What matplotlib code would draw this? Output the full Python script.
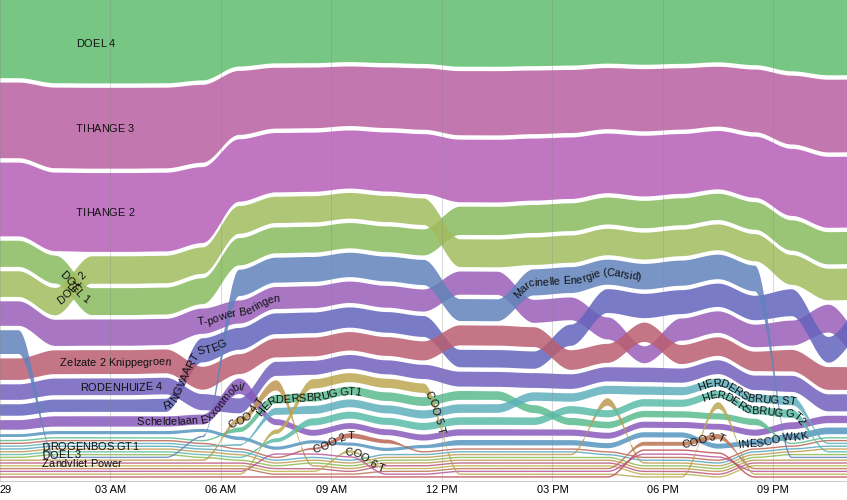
import numpy as np
import matplotlib
matplotlib.use("Agg")
import matplotlib.pyplot as plt
from matplotlib.font_manager import FontProperties
from matplotlib.textpath import TextToPath

# hourly output (MW) per unit, one sample per hour (drawn at the half hour)
hours = list(range(24))

doel4 = [1040] * 24
tihange3 = [1035] * 24
tihange2 = [1010] * 24
doel1 = [372, 372, 358, 358, 358, 358] + [455] * 6 + [470] * 12
doel2 = [365] * 6 + [462] * 18
t_power = [350] * 6 + [390] * 11 + [300, 390, 390, 390, 390, 410, 380]
ringvaart = [175, 175, 175, 175, 185, 335, 370, 370, 370, 370, 370, 370,
             300, 300, 300, 365, 420, 420, 420, 420, 420, 420, 380, 420]
zelzate = [310, 320, 320, 320, 320, 320] + [340] * 18
rodenhuize = [230] * 6 + [260] * 18
scheldelaan = [150] * 6 + [270] + [125] * 17
inesco = [60] * 6 + [80] * 6 + [110] * 9 + [115] * 3
herdersbrug_gt1 = [0] * 6 + [100, 170, 170, 170, 170, 170, 165, 160, 150, 140,
                             135, 130, 130, 130, 130, 0, 0, 0]
coo2 = [0] * 8 + [60, 110, 90] + [0] * 13
herdersbrug_st = [0] * 6 + [40, 140] + [160] * 12 + [155, 155, 0, 0]
drogenbos_gt1 = [0] * 24
coo1 = [0] * 16 + [150] + [0] * 7
herdersbrug_gt2 = [0] * 7 + [90] + [145] * 14 + [0, 0]
doel3 = [0] * 24
marcinelle = [340, 0, 0, 0, 0, 30, 440, 440, 440, 440, 440, 440,
              370, 370, 440, 440, 440, 440, 440, 440, 440, 0, 0, 0]
coo4 = [0] * 6 + [110, 195] + [0] * 16
zandvliet = [0] * 24
coo6 = [0] * 9 + [70] + [0] * 14
coo3 = [0] * 17 + [90, 90, 115] + [0] * 4
ham = [0] * 7 + [20, 20, 20] + [0] * 7 + [15, 15, 15] + [0] * 4
coo5 = [0] * 7 + [100, 180, 180, 180, 180] + [0] * 7 + [140] + [0] * 4
angleur = [0] * 17 + [25, 25, 25] + [0] * 4

names = ["DOEL 4", "TIHANGE 3", "TIHANGE 2", "DOEL 1", "DOEL 2",
         "T-power Beringen", "RINGVAART STEG", "Zelzate 2 Knippegroen",
         "RODENHUIZE 4", "Scheldelaan Exxonmobil", "INESCO WKK",
         "HERDERSBRUG GT1", "COO 2 T", "HERDERSBRUG ST", "DROGENBOS GT1",
         "COO 1 T", "HERDERSBRUG GT2", "DOEL 3", "Marcinelle Energie (Carsid)",
         "COO 4 T", "Zandvliet Power", "COO 6 T", "COO 3 T", "Ham GT",
         "COO 5 T", "Angleur TG 41"]
series = [doel4, tihange3, tihange2, doel1, doel2, t_power, ringvaart,
          zelzate, rodenhuize, scheldelaan, inesco, herdersbrug_gt1, coo2,
          herdersbrug_st, drogenbos_gt1, coo1, herdersbrug_gt2, doel3,
          marcinelle, coo4, zandvliet, coo6, coo3, ham, coo5, angleur]

colors = ["#78c683", "#c377ae", "#c176c3", "#9ac577", "#b0c677", "#a876c3",
          "#7a7bc6", "#c47686", "#8679c6", "#9a73c6", "#6fa6c9", "#73c5a0",
          "#c47c6c", "#76bcc6", "#6fb3c8", "#c8aa6b", "#74c6b5", "#9cc46c",
          "#7896c6", "#c9a76b", "#c4708f", "#c6bd6b", "#c4886b", "#c46fa8",
          "#c8b46b", "#c4656b"]

# where each label starts along its band (pixels from the left)
label_start = {"DOEL 4": 76, "TIHANGE 3": 76, "TIHANGE 2": 76, "DOEL 1": 62,
               "DOEL 2": 58, "T-power Beringen": 197, "RINGVAART STEG": 163,
               "Zelzate 2 Knippegroen": 60, "RODENHUIZE 4": 80,
               "Scheldelaan Exxonmobil": 137, "HERDERSBRUG GT1": 258,
               "COO 4 T": 230, "COO 2 T": 313, "COO 6 T": 345, "COO 5 T": 428,
               "Marcinelle Energie (Carsid)": 515, "HERDERSBRUG ST": 698,
               "HERDERSBRUG GT2": 702, "COO 3 T": 682, "INESCO WKK": 738,
               "DROGENBOS GT1": 42, "DOEL 3": 42, "Zandvliet Power": 42}

W, HAX = 847, 481
PAD = 2.8
SHRINK = 1.6
BOTTOM = 2.6
ALPHA = 0.85
T_END = 23.0

vals = np.array(series, float)
n, m = vals.shape
ts = np.array(hours) + 0.5

# ranked, normalised stack: biggest unit on top, fixed pixel gap between bands
centers = np.zeros((n, m))
thick = np.zeros((n, m))
avail = HAX - BOTTOM - n * PAD
for k in range(m):
    v = vals[:, k]
    order = sorted(range(n), key=lambda i: (v[i], -i))
    y = BOTTOM
    for i in order:
        th = v[i] / v.sum() * avail
        centers[i, k] = y + (th + PAD) / 2
        thick[i, k] = th
        y += th + PAD

tt = np.linspace(0, T_END, 2400)
j = np.clip(np.searchsorted(ts, tt) - 1, 0, m - 2)
u = np.clip((tt - ts[j]) / (ts[j + 1] - ts[j]), 0, 1)
s = u * u * (3 - 2 * u)


def smooth(arr):
    return arr[j] + (arr[j + 1] - arr[j]) * s


def base_color(hexcol):
    rgb = np.array(matplotlib.colors.to_rgb(hexcol))
    return tuple(np.clip((rgb - (1 - ALPHA)) / ALPHA, 0, 1))


fig = plt.figure(figsize=(8.47, 5.0), dpi=100)
ax = fig.add_axes([0, 19 / 500, 1, HAX / 500])

paths = {}
for i in range(n):
    c = smooth(centers[i])
    th = np.maximum(smooth(thick[i]) - SHRINK, 0)
    if i == 0:
        top = np.full_like(c, HAX)
    else:
        top = c + th / 2
    col = base_color(colors[i])
    ax.fill_between(tt, c - th / 2, top, color=col, alpha=ALPHA,
                    lw=0, zorder=2)
    ax.plot(tt, np.where(th < 1.0, c, np.nan), color=col, alpha=ALPHA,
            lw=1.0, zorder=2)
    paths[names[i]] = c

# grid on top of the bands
for h in range(0, 24, 3):
    ax.axvline(h, color="#888888", lw=0.8, alpha=0.3, zorder=3)

# labels written along the band centre line
FS = 11
ttp = TextToPath()
fp = FontProperties(family="Liberation Sans", size=FS)
wx = ttp.get_text_width_height_descent("x", fp, ismath=False)[0]


def adv(p):
    if not p:
        return 0.0
    return ttp.get_text_width_height_descent(p + "x", fp, ismath=False)[0] - wx


X = tt * W / T_END
for name, x0 in label_start.items():
    Y = paths[name]
    S = np.concatenate([[0], np.cumsum(np.hypot(np.diff(X), np.diff(Y)))])
    s0 = np.interp(x0, X, S)
    for k, ch in enumerate(name):
        if ch == " ":
            continue
        sm = s0 + (adv(name[:k]) + adv(name[:k + 1])) / 2
        px = np.interp(sm, S, X)
        py = np.interp(sm, S, Y)
        dx = np.interp(sm + 2, S, X) - np.interp(sm - 2, S, X)
        dy = np.interp(sm + 2, S, Y) - np.interp(sm - 2, S, Y)
        th = np.arctan2(dy, dx)
        bx = px + 0.35 * FS * np.sin(th)
        by = py - 0.35 * FS * np.cos(th)
        ax.text(bx * T_END / W, by, ch, rotation=np.degrees(th),
                rotation_mode="anchor", ha="center", va="baseline",
                fontsize=FS * 0.72, family="Liberation Sans", color="#111111",
                zorder=5)

ax.set_xlim(0, T_END)
ax.set_ylim(0, HAX)
ax.set_yticks([])
for side in ["top", "left", "right"]:
    ax.spines[side].set_visible(False)
ax.spines["bottom"].set_color("#cccccc")
ax.set_xticks(range(0, 24, 3))
ax.set_xticklabels(["29", "03 AM", "06 AM", "09 AM", "12 PM", "03 PM",
                    "06 PM", "09 PM"], fontsize=7.9, family="Liberation Sans")
ax.get_xticklabels()[0].set_horizontalalignment("left")
ax.tick_params(axis="x", length=0, pad=3)

fig.savefig("out.png", dpi=100)
